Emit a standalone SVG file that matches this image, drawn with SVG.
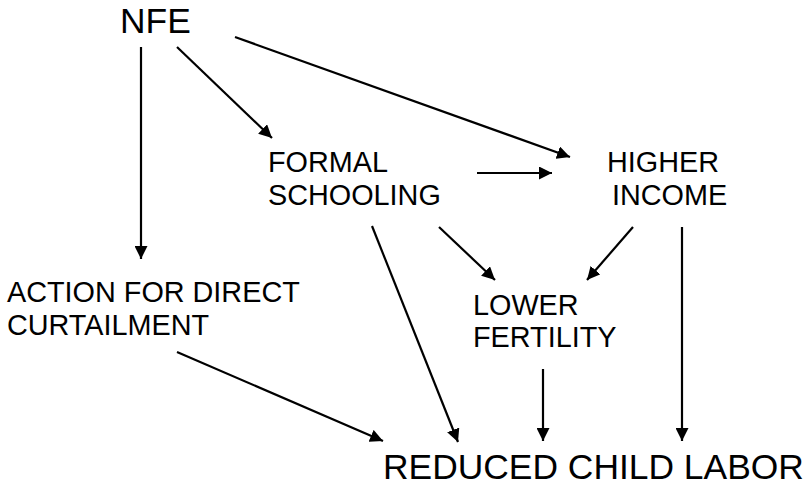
<svg xmlns="http://www.w3.org/2000/svg" width="806" height="486" viewBox="0 0 806 486">
<defs>
<marker id="ah" markerUnits="userSpaceOnUse" markerWidth="14" markerHeight="13" refX="13" refY="6.5" orient="auto">
<path d="M0,0 L13,6.5 L0,13 z" fill="#000"/>
</marker>
<style>
.big{font-family:"Liberation Sans",Arial,sans-serif;font-size:35.4px;fill:#000}
.sm{font-family:"Liberation Sans",Arial,sans-serif;font-size:28.8px;fill:#000}
.c line{stroke:#000;stroke-width:2.2;marker-end:url(#ah)}
</style>
</defs>
<rect width="806" height="486" fill="#fff"/>
<g class="c" id="connectors">
<line x1="141" y1="47" x2="141" y2="259"/>
<line x1="177" y1="47" x2="272" y2="138"/>
<line x1="235" y1="37" x2="570" y2="157"/>
<line x1="477" y1="173" x2="552" y2="173"/>
<line x1="372" y1="226" x2="458" y2="442"/>
<line x1="439" y1="227" x2="495" y2="280"/>
<line x1="633" y1="227" x2="587" y2="280"/>
<line x1="543" y1="369" x2="543" y2="441"/>
<line x1="682" y1="227" x2="682" y2="441"/>
<line x1="177" y1="352" x2="383" y2="441"/>
</g>
<g id="nfe"><text class="big" x="120" y="33">NFE</text></g>
<g id="formal"><text class="sm" x="268" y="172">FORMAL</text><text class="sm" x="268" y="205">SCHOOLING</text></g>
<g id="income"><text class="sm" x="607" y="172">HIGHER</text><text class="sm" x="612" y="205">INCOME</text></g>
<g id="action"><text class="sm" x="7" y="302">ACTION FOR DIRECT</text><text class="sm" x="7" y="335">CURTAILMENT</text></g>
<g id="fertility"><text class="sm" x="473" y="315">LOWER</text><text class="sm" x="473" y="347">FERTILITY</text></g>
<g id="reduced"><text class="big" x="383" y="479">REDUCED CHILD LABOR</text></g>
</svg>
